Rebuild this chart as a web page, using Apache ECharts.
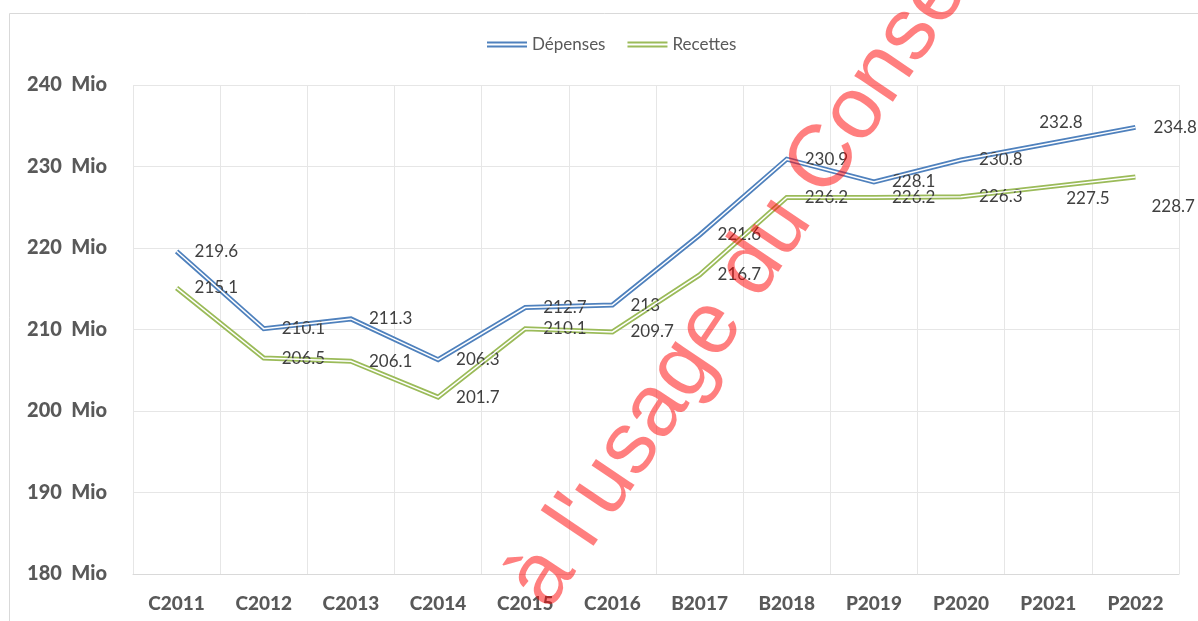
<!doctype html>
<html lang="fr">
<head>
  <meta charset="UTF-8">
  <script src="https://cdn.jsdelivr.net/npm/echarts@6/dist/echarts.min.js"></script>
  <title>Dépenses / Recettes</title>
  <style type="text/css">
    html, body {
      width: 100%;
      height: 100%;
      margin: 0;
      padding: 0;
      background-color: #ffffff;
    }

    #canvas {
      width: 1198px;
      height: 621px;
    }
  </style>
</head>

<body>
<div id="canvas"></div>

<script type="text/javascript">
  const years = ['C2011', 'C2012', 'C2013', 'C2014', 'C2015', 'C2016', 'B2017', 'B2018', 'P2019', 'P2020', 'P2021', 'P2022']
  const depenses = [219.6, 210.1, 211.3, 206.3, 212.7, 213, 221.6, 230.9, 228.1, 230.8, 232.8, 234.8]
  const recettes = [215.1, 206.5, 206.1, 201.7, 210.1, 209.7, 216.7, 226.2, 226.2, 226.3, 227.5, 228.7]
  const yMin = 180
  const yMax = 240
  const yStep = 10

  // a few labels Excel had pushed around by hand
  const depOffsets = { 10: [-27, -21] }
  const recOffsets = { 10: [0, 12], 11: [-2, 29] }

  const font = 'Lato, "Open Sans", sans-serif'
  const blue = '#4f81bd'
  const green = '#9bbb59'

  const withLabels = (values, offsets) => values.map((v, i) => {
    if (!offsets[i]) return v
    return { value: v, label: { offset: offsets[i] } }
  })

  const mainLine = (name, values, offsets, color) => ({
    name: name,
    type: 'line',
    data: withLabels(values, offsets),
    symbol: 'circle',
    symbolSize: 0,
    color: color,
    lineStyle: { width: 5, color: color, join: 'miter' },
    label: {
      show: true,
      position: 'right',
      distance: 18,
      color: '#404040',
      fontFamily: font,
      fontSize: 17,
    },
    z: 2,
  })

  // thin white stroke on top gives the double line look
  const innerLine = (name, values) => ({
    name: name,
    type: 'line',
    data: values,
    symbol: 'none',
    silent: true,
    lineStyle: { width: 1.5, color: '#ffffff', join: 'miter' },
    z: 3,
  })

  const doubleIcon = 'path://M0,0L40,0L40,2L0,2Z M0,4L40,4L40,6L0,6Z'

  const chart = echarts.init(document.getElementById('canvas'))

  chart.setOption({
    animation: false,
    textStyle: { fontFamily: font },
    grid: { left: 133, right: 19, top: 85, bottom: 47 },
    legend: {
      top: 31,
      left: 482,
      itemWidth: 40,
      itemHeight: 6,
      itemGap: 22,
      textStyle: { color: '#595959', fontSize: 17, fontFamily: font },
      data: [
        { name: 'Dépenses', icon: doubleIcon, itemStyle: { color: blue } },
        { name: 'Recettes', icon: doubleIcon, itemStyle: { color: green } },
      ],
    },
    xAxis: {
      type: 'category',
      data: years,
      boundaryGap: true,
      axisTick: { show: false },
      axisLine: { lineStyle: { color: '#d9d9d9' } },
      splitLine: { show: true, lineStyle: { color: '#e6e6e6' } },
      axisLabel: {
        margin: 20,
        color: '#595959',
        fontWeight: 900,
        fontSize: 19,
        fontFamily: font,
        interval: 0,
      },
    },
    yAxis: {
      type: 'value',
      min: yMin,
      max: yMax,
      interval: yStep,
      axisLine: { show: false },
      axisTick: { show: false },
      splitLine: { lineStyle: { color: '#e6e6e6' } },
      axisLabel: {
        margin: 26,
        color: '#595959',
        fontWeight: 900,
        fontSize: 20,
        fontFamily: font,
        formatter: '{value}  Mio',
      },
    },
    graphic: [
      {
        type: 'rect',
        z: -1,
        shape: { x: 9.5, y: 13.5, width: 1300, height: 700 },
        style: { fill: 'none', stroke: '#d9d9d9', lineWidth: 1 },
      },
      {
        type: 'text',
        z: 100,
        x: 529,
        y: 598,
        rotation: 56 * Math.PI / 180,
        style: {
          text: "à l'usage du Conseil",
          font: '88px "Liberation Sans", Arial, sans-serif',
          fill: 'rgba(255, 0, 0, 0.5)',
          align: 'left',
          verticalAlign: 'middle',
        },
      },
    ],
    series: [
      mainLine('Dépenses', depenses, depOffsets, blue),
      mainLine('Recettes', recettes, recOffsets, green),
      innerLine('Dépenses (trait)', depenses),
      innerLine('Recettes (trait)', recettes),
    ],
  })
</script>
</body>
</html>
